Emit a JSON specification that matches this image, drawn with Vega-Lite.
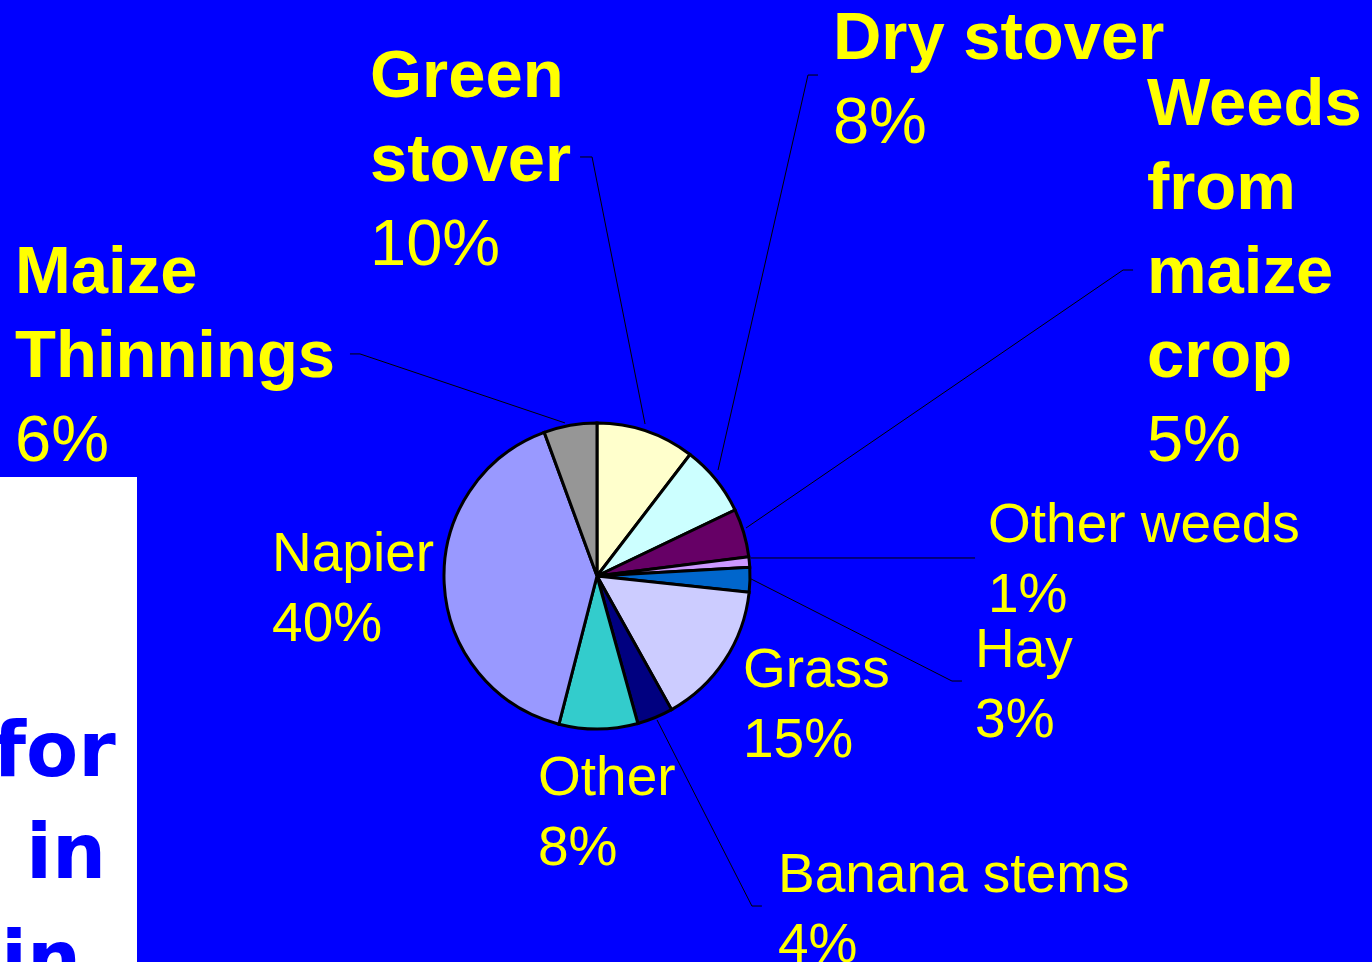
{
  "$schema": "https://vega.github.io/schema/vega-lite/v6.json",
  "width": 1372,
  "height": 962,
  "padding": 0,
  "autosize": {"type": "none"},
  "background": "#0000FF",
  "config": {"view": {"stroke": null}},
  "datasets": {
    "slices": [
      {"feed": "Green stover", "share": 10.4, "rank": 1},
      {"feed": "Dry stover", "share": 7.5, "rank": 2},
      {"feed": "Weeds from maize crop", "share": 5.1, "rank": 3},
      {"feed": "Other weeds", "share": 1.1, "rank": 4},
      {"feed": "Hay", "share": 2.6, "rank": 5},
      {"feed": "Grass", "share": 15.2, "rank": 6},
      {"feed": "Banana stems", "share": 3.8, "rank": 7},
      {"feed": "Other", "share": 8.3, "rank": 8},
      {"feed": "Napier", "share": 40.4, "rank": 9},
      {"feed": "Maize Thinnings", "share": 5.6, "rank": 10}
    ],
    "labels": [
      {"feed": "Green stover", "name": ["Green", "stover"], "pct": "10%", "tier": "major", "lx": -147.4, "ny": 311.0, "py": 201.9},
      {"feed": "Dry stover", "name": ["Dry stover"], "pct": "8%", "tier": "major", "lx": 153.2, "ny": 335.7, "py": 281.2},
      {"feed": "Weeds from maize crop", "name": ["Weeds", "from", "maize", "crop"], "pct": "5%", "tier": "major", "lx": 357.1, "ny": 292.9, "py": 74.7},
      {"feed": "Maize Thinnings", "name": ["Maize", "Thinnings"], "pct": "6%", "tier": "major", "lx": -377.9, "ny": 183.8, "py": 74.7},
      {"feed": "Napier", "name": ["Napier"], "pct": "40%", "tier": "minor", "lx": -211.0, "ny": 3.3, "py": -42.2},
      {"feed": "Other", "name": ["Other"], "pct": "8%", "tier": "minor", "lx": -38.3, "ny": -142.3, "py": -187.7},
      {"feed": "Grass", "name": ["Grass"], "pct": "15%", "tier": "minor", "lx": 94.8, "ny": -72.1, "py": -117.5},
      {"feed": "Hay", "name": ["Hay"], "pct": "3%", "tier": "minor", "lx": 245.5, "ny": -59.1, "py": -104.5},
      {"feed": "Other weeds", "name": ["Other weeds"], "pct": "1%", "tier": "minor", "lx": 253.9, "ny": 22.1, "py": -23.4},
      {"feed": "Banana stems", "name": ["Banana stems"], "pct": "4%", "tier": "minor", "lx": 117.5, "ny": -205.2, "py": -250.6}
    ],
    "leaders": [
      {"feed": "Maize Thinnings", "seq": 1, "lx": -160.4, "ly": 144.2},
      {"feed": "Maize Thinnings", "seq": 2, "lx": -153.9, "ly": 144.2},
      {"feed": "Maize Thinnings", "seq": 3, "lx": -20.8, "ly": 99.4},
      {"feed": "Green stover", "seq": 1, "lx": -11.0, "ly": 272.1},
      {"feed": "Green stover", "seq": 2, "lx": -3.2, "ly": 272.1},
      {"feed": "Green stover", "seq": 3, "lx": 31.2, "ly": 98.7},
      {"feed": "Dry stover", "seq": 1, "lx": 143.5, "ly": 325.3},
      {"feed": "Dry stover", "seq": 2, "lx": 137.0, "ly": 325.3},
      {"feed": "Dry stover", "seq": 3, "lx": 78.6, "ly": 68.8},
      {"feed": "Weeds from maize crop", "seq": 1, "lx": 348.1, "ly": 198.7},
      {"feed": "Weeds from maize crop", "seq": 2, "lx": 341.6, "ly": 198.7},
      {"feed": "Weeds from maize crop", "seq": 3, "lx": 96.8, "ly": 31.2},
      {"feed": "Other weeds", "seq": 1, "lx": 245.5, "ly": 11.7},
      {"feed": "Other weeds", "seq": 2, "lx": 100.0, "ly": 11.7},
      {"feed": "Hay", "seq": 1, "lx": 237.0, "ly": -68.2},
      {"feed": "Hay", "seq": 2, "lx": 230.5, "ly": -68.2},
      {"feed": "Hay", "seq": 3, "lx": 100.0, "ly": -1.9},
      {"feed": "Banana stems", "seq": 1, "lx": 107.1, "ly": -214.3},
      {"feed": "Banana stems", "seq": 2, "lx": 100.6, "ly": -214.3},
      {"feed": "Banana stems", "seq": 3, "lx": 39.0, "ly": -93.5}
    ],
    "panel": [
      {"x1": -387.66, "x2": -298.7, "y1": 64.3, "y2": -250.65}
    ],
    "panelText": [
      {"t": "for", "lx": -312.5, "ly": -129.9},
      {"t": "in", "lx": -318.8, "ly": -196.1},
      {"t": "in", "lx": -335.0, "ly": -265.6}
    ]
  },
  "layer": [
    {
      "data": {"name": "panel"},
      "mark": {"type": "rect", "fill": "#FFFFFF"},
      "encoding": {
        "x": {"field": "x1", "type": "quantitative", "scale": {"domain": [-387.66, 503.25], "nice": false, "zero": false}, "axis": null},
        "x2": {"field": "x2"},
        "y": {"field": "y1", "type": "quantitative", "scale": {"domain": [-250.65, 374.03], "nice": false, "zero": false}, "axis": null},
        "y2": {"field": "y2"}
      }
    },
    {
      "data": {"name": "panelText"},
      "mark": {"type": "text", "font": "DejaVu Sans", "fontWeight": "bold", "fontSize": 76, "align": "right", "baseline": "alphabetic", "fill": "#0000FF"},
      "encoding": {
        "x": {"field": "lx", "type": "quantitative", "scale": {"domain": [-387.66, 503.25], "nice": false, "zero": false}, "axis": null},
        "y": {"field": "ly", "type": "quantitative", "scale": {"domain": [-250.65, 374.03], "nice": false, "zero": false}, "axis": null},
        "text": {"field": "t", "type": "nominal"}
      }
    },
    {
      "data": {"name": "leaders"},
      "mark": {"type": "line", "stroke": "#000000", "strokeWidth": 1},
      "encoding": {
        "x": {"field": "lx", "type": "quantitative", "scale": {"domain": [-387.66, 503.25], "nice": false, "zero": false}, "axis": null},
        "y": {"field": "ly", "type": "quantitative", "scale": {"domain": [-250.65, 374.03], "nice": false, "zero": false}, "axis": null},
        "detail": {"field": "feed", "type": "nominal"},
        "order": {"field": "seq", "type": "quantitative"}
      }
    },
    {
      "data": {"name": "slices"},
      "mark": {"type": "arc", "outerRadius": 153, "stroke": "#000000", "strokeWidth": 3},
      "encoding": {
        "theta": {"field": "share", "type": "quantitative", "stack": true},
        "order": {"field": "rank", "type": "quantitative"},
        "color": {
          "field": "feed",
          "type": "nominal",
          "legend": null,
          "scale": {
            "domain": ["Green stover", "Dry stover", "Weeds from maize crop", "Other weeds", "Hay", "Grass", "Banana stems", "Other", "Napier", "Maize Thinnings"],
            "range": ["#FFFFCC", "#CCFFFF", "#660066", "#CC99FF", "#0066CC", "#CCCCFF", "#000080", "#33CCCC", "#9999FF", "#969696"]
          }
        },
        "x": {"datum": 0, "type": "quantitative", "scale": {"domain": [-387.66, 503.25], "nice": false, "zero": false}, "axis": null},
        "y": {"datum": 0, "type": "quantitative", "scale": {"domain": [-250.65, 374.03], "nice": false, "zero": false}, "axis": null}
      }
    },
    {
      "data": {"name": "labels"},
      "transform": [{"filter": {"field": "tier", "equal": "major"}}],
      "mark": {"type": "text", "font": "Liberation Sans", "fontWeight": "bold", "fontSize": 67, "lineHeight": 84, "align": "left", "baseline": "alphabetic", "fill": "#FFFF00"},
      "encoding": {
        "x": {"field": "lx", "type": "quantitative", "scale": {"domain": [-387.66, 503.25], "nice": false, "zero": false}, "axis": null},
        "y": {"field": "ny", "type": "quantitative", "scale": {"domain": [-250.65, 374.03], "nice": false, "zero": false}, "axis": null},
        "text": {"field": "name"}
      }
    },
    {
      "data": {"name": "labels"},
      "transform": [{"filter": {"field": "tier", "equal": "major"}}],
      "mark": {"type": "text", "font": "Liberation Sans", "fontWeight": "normal", "fontSize": 65, "align": "left", "baseline": "alphabetic", "fill": "#FFFF00"},
      "encoding": {
        "x": {"field": "lx", "type": "quantitative", "scale": {"domain": [-387.66, 503.25], "nice": false, "zero": false}, "axis": null},
        "y": {"field": "py", "type": "quantitative", "scale": {"domain": [-250.65, 374.03], "nice": false, "zero": false}, "axis": null},
        "text": {"field": "pct", "type": "nominal"}
      }
    },
    {
      "data": {"name": "labels"},
      "transform": [{"filter": {"field": "tier", "equal": "minor"}}],
      "mark": {"type": "text", "font": "Liberation Sans", "fontWeight": "normal", "fontSize": 55, "lineHeight": 70, "align": "left", "baseline": "alphabetic", "fill": "#FFFF00"},
      "encoding": {
        "x": {"field": "lx", "type": "quantitative", "scale": {"domain": [-387.66, 503.25], "nice": false, "zero": false}, "axis": null},
        "y": {"field": "ny", "type": "quantitative", "scale": {"domain": [-250.65, 374.03], "nice": false, "zero": false}, "axis": null},
        "text": {"field": "name"}
      }
    },
    {
      "data": {"name": "labels"},
      "transform": [{"filter": {"field": "tier", "equal": "minor"}}],
      "mark": {"type": "text", "font": "Liberation Sans", "fontWeight": "normal", "fontSize": 55, "align": "left", "baseline": "alphabetic", "fill": "#FFFF00"},
      "encoding": {
        "x": {"field": "lx", "type": "quantitative", "scale": {"domain": [-387.66, 503.25], "nice": false, "zero": false}, "axis": null},
        "y": {"field": "py", "type": "quantitative", "scale": {"domain": [-250.65, 374.03], "nice": false, "zero": false}, "axis": null},
        "text": {"field": "pct", "type": "nominal"}
      }
    }
  ]
}
